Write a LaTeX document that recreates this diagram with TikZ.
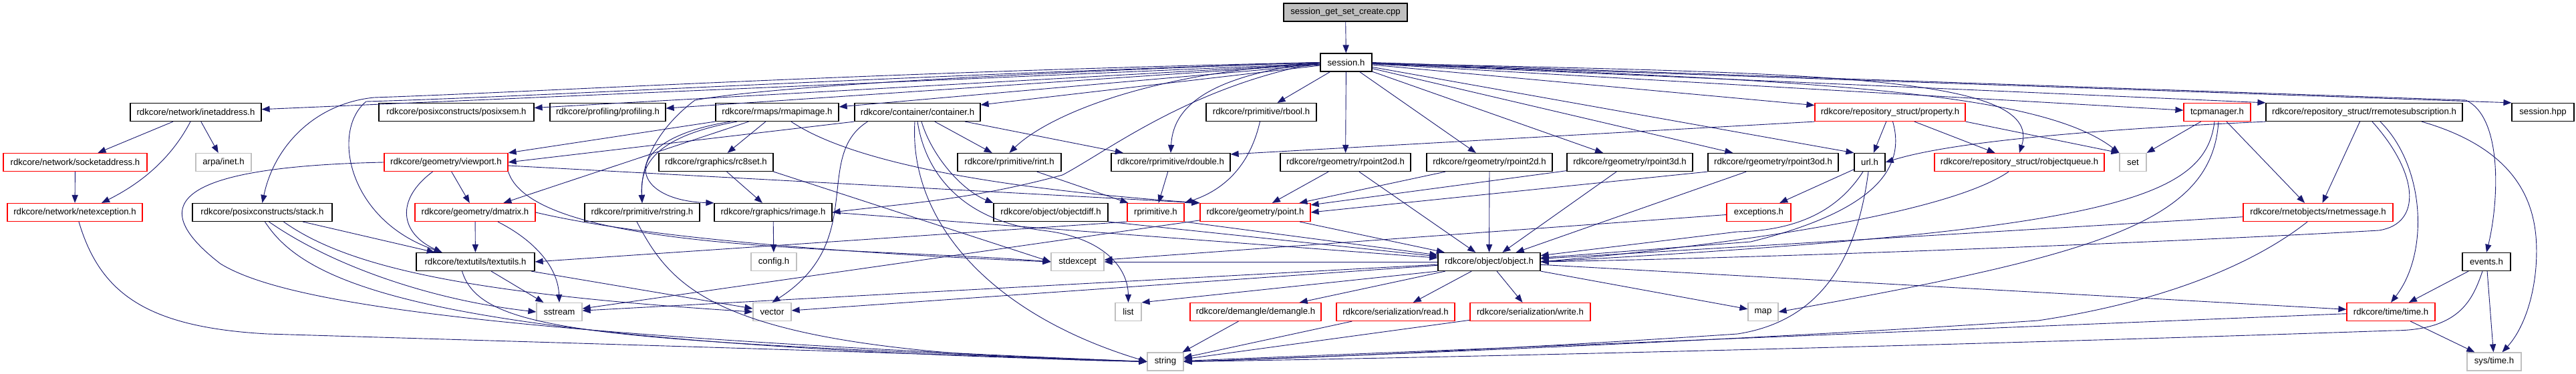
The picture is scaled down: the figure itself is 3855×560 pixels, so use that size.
\documentclass[tikz,border=0pt]{standalone}
\usepackage{fontspec}
\setmainfont{Liberation Sans}
\usetikzlibrary{arrows.meta}
\definecolor{edgeblue}{HTML}{191970}
\definecolor{extgray}{HTML}{BFBFBF}
\definecolor{cutred}{HTML}{FF0000}

\begin{document}
\begin{tikzpicture}[x=0.5pt, y=-0.5pt,
  hdrbox/.style={rectangle, font=\fontsize{6.6}{7}\selectfont, minimum height=13.5pt, inner xsep=1pt, inner ysep=0pt, line width=0.6pt},
  incl/.style={hdrbox, draw=black},
  trunc/.style={hdrbox, draw=cutred},
  extern/.style={hdrbox, draw=extgray},
  root/.style={hdrbox, draw=black, fill=extgray},
  dep/.style={draw=edgeblue, line width=0.45pt, -{Triangle[length=6pt,width=4.6pt]}}]
  \useasboundingbox (0,0) rectangle (3855,560);
  % files, row by row
  \node[root, minimum width=92.5pt] (cpp) at (2013.5,18.5) {session\_get\_set\_create.cpp};
  \node[incl, minimum width=38.5pt] (sessionh) at (2014.5,93.5) {session.h};
  \node[incl, minimum width=98pt] (inetaddr) at (293,168) {rdkcore/network/inetaddress.h};
  \node[incl, minimum width=116pt] (posixsem) at (683,168) {rdkcore/posixconstructs/posixsem.h};
  \node[incl, minimum width=86.5pt] (profiling) at (909.5,168) {rdkcore/profiling/profiling.h};
  \node[incl, minimum width=92pt] (rmapimage) at (1163,168) {rdkcore/rmaps/rmapimage.h};
  \node[incl, minimum width=94pt] (container) at (1373,168) {rdkcore/container/container.h};
  \node[incl, minimum width=82.5pt] (rbool) at (1887.5,168) {rdkcore/rprimitive/rbool.h};
  \node[trunc, minimum width=112.5pt] (property) at (2828.5,168) {rdkcore/repository\_struct/property.h};
  \node[trunc, minimum width=50pt] (tcpmgr) at (3318,168) {tcpmanager.h};
  \node[incl, minimum width=147pt] (rremote) at (3538,168) {rdkcore/repository\_struct/rremotesubscription.h};
  \node[incl, minimum width=46.5pt] (sessionhpp) at (3805.5,168) {session.hpp};
  \node[trunc, minimum width=107.5pt] (sockaddr) at (112.5,243) {rdkcore/network/socketaddress.h};
  \node[extern, minimum width=41.5pt] (arpainet) at (334.5,243) {arpa/inet.h};
  \node[trunc, minimum width=92.5pt] (viewport) at (667.5,243) {rdkcore/geometry/viewport.h};
  \node[incl, minimum width=85.5pt] (rceightset) at (1071.5,243) {rdkcore/rgraphics/rc8set.h};
  \node[incl, minimum width=77.5pt] (rint) at (1510.5,243) {rdkcore/rprimitive/rint.h};
  \node[incl, minimum width=89pt] (rdouble) at (1752,243) {rdkcore/rprimitive/rdouble.h};
  \node[incl, minimum width=97.5pt] (rptwood) at (2013.5,243) {rdkcore/rgeometry/rpoint2od.h};
  \node[incl, minimum width=94pt] (rptwod) at (2229,243) {rdkcore/rgeometry/rpoint2d.h};
  \node[incl, minimum width=94pt] (rptthreed) at (2439,243) {rdkcore/rgeometry/rpoint3d.h};
  \node[incl, minimum width=97.5pt] (rptthreeod) at (2653.5,243) {rdkcore/rgeometry/rpoint3od.h};
  \node[incl, minimum width=23pt] (url) at (2798,243) {url.h};
  \node[trunc, minimum width=127pt] (robjq) at (3022,243) {rdkcore/repository\_struct/robjectqueue.h};
  \node[extern, minimum width=20pt] (stdset) at (3192,243) {set};
  \node[trunc, minimum width=101pt] (netexc) at (112,318) {rdkcore/network/netexception.h};
  \node[incl, minimum width=104.5pt] (stack) at (392.5,318) {rdkcore/posixconstructs/stack.h};
  \node[trunc, minimum width=90pt] (dmatrix) at (711,318) {rdkcore/geometry/dmatrix.h};
  \node[incl, minimum width=86pt] (rstring) at (961,318) {rdkcore/rprimitive/rstring.h};
  \node[incl, minimum width=88pt] (rimage) at (1157,318) {rdkcore/rgraphics/rimage.h};
  \node[incl, minimum width=85.5pt] (objectdiff) at (1572.5,318) {rdkcore/object/objectdiff.h};
  \node[trunc, minimum width=42.5pt] (rprimitive) at (1729.5,318) {rprimitive.h};
  \node[trunc, minimum width=82.5pt] (point) at (1878.5,318) {rdkcore/geometry/point.h};
  \node[trunc, minimum width=48pt] (exceptions) at (2632,318) {exceptions.h};
  \node[trunc, minimum width=112pt] (rnetmsg) at (3469,318) {rdkcore/rnetobjects/rnetmessage.h};
  \node[incl, minimum width=88.5pt] (textutils) at (711.5,392) {rdkcore/textutils/textutils.h};
  \node[extern, minimum width=34pt] (configh) at (1158,392) {config.h};
  \node[extern, minimum width=39.5pt] (stdexcept) at (1612.5,392) {stdexcept};
  \node[incl, minimum width=76.5pt] (object) at (2228.5,392) {rdkcore/object/object.h};
  \node[incl, minimum width=36pt] (events) at (3721,392) {events.h};
  \node[extern, minimum width=34pt] (stdsstream) at (837,467) {sstream};
  \node[extern, minimum width=28.5pt] (stdvector) at (1155.5,467) {vector};
  \node[extern, minimum width=19.5pt] (stdlist) at (1688.5,467) {list};
  \node[trunc, minimum width=98pt] (demangle) at (1879,467) {rdkcore/demangle/demangle.h};
  \node[trunc, minimum width=88.5pt] (readh) at (2088.5,467) {rdkcore/serialization/read.h};
  \node[trunc, minimum width=90pt] (writeh) at (2290,467) {rdkcore/serialization/write.h};
  \node[extern, minimum width=22.5pt] (stdmap) at (2638.5,467) {map};
  \node[trunc, minimum width=66pt] (timeh) at (3578,467) {rdkcore/time/time.h};
  \node[extern, minimum width=27pt] (stdstring) at (1744,541.5) {string};
  \node[extern, minimum width=40.5pt] (systime) at (3732.5,541.5) {sys/time.h};
  % session.h
  \draw[dep] (cpp) -- (sessionh);
  \draw[dep] (sessionh) -- (inetaddr);
  \draw[dep] (sessionh) -- (posixsem);
  \draw[dep] (sessionh) -- (profiling);
  \draw[dep] (sessionh) -- (rmapimage);
  \draw[dep] (sessionh) -- (container);
  \draw[dep] (sessionh) -- (rbool);
  \draw[dep] (sessionh) -- (rptwood);
  \draw[dep] (sessionh) -- (rptwod);
  \draw[dep] (sessionh) -- (rptthreed);
  \draw[dep] (sessionh) -- (rptthreeod);
  \draw[dep] (sessionh) -- (property);
  \draw[dep] (sessionh) -- (url.north west);
  \draw[dep] (sessionh) .. controls (2700,110) and (3060,110) .. (robjq.north);
  \draw[dep] (sessionh) .. controls (2700,120) and (3050,135) .. (stdset.north west);
  \draw[dep] (sessionh) -- (tcpmgr);
  \draw[dep] (sessionh) -- (rremote.north west);
  \draw[dep] (sessionh) -- (sessionhpp.north west);
  \draw[dep] (sessionh.east) -- (3690,150) .. controls (3745,175) and (3740,300) .. (events.north);
  \draw[dep] (sessionh.west) .. controls (1300,108) and (800,138) .. (560,146) .. controls (470,155) and (410,220) .. (stack.north);
  \draw[dep] (sessionh.west) .. controls (1300,115) and (800,145) .. (548,152) .. controls (495,195) and (520,330) .. ([xshift=-25pt]textutils.north);
  \draw[dep] (sessionh.west) .. controls (1700,110) and (1560,180) .. (rint.north);
  \draw[dep] (sessionh.west) .. controls (1790,115) and (1755,170) .. (rdouble.north);
  \draw[dep] (sessionh.west) .. controls (1500,110) and (1150,130) .. (1040,150) .. controls (1000,180) and (958,230) .. (rstring.north);
  \draw[dep] (sessionh.west) .. controls (1780,130) and (1660,225) .. (1590,262) .. controls (1450,300) and (1350,305) .. (rimage.east);
  % network
  \draw[dep] (inetaddr) -- (sockaddr);
  \draw[dep] (inetaddr) -- (arpainet);
  \draw[dep] ([xshift=-4pt]inetaddr.south) .. controls (260,230) and (220,270) .. ([xshift=20pt]netexc.north);
  \draw[dep] (sockaddr) -- (netexc);
  \draw[dep] ([xshift=3pt]netexc.south) .. controls (150,440) and (220,490) .. (400,500) .. controls (900,515) and (1400,530) .. (stdstring.west);
  % posixconstructs, geometry, textutils
  \draw[dep] (stack) -- (textutils);
  \draw[dep] ([xshift=16pt]stack.south) .. controls (520,400) and (700,440) .. (stdvector.west);
  \draw[dep] ([xshift=5pt]stack.south) .. controls (500,400) and (650,450) .. (stdsstream.west);
  \draw[dep] ([xshift=2pt]stack.south) .. controls (460,430) and (650,515) .. (stdstring.west);
  \draw[dep] (viewport) -- (dmatrix);
  \draw[dep] (viewport) -- (point.north west);
  \draw[dep] ([xshift=-10pt]viewport.south) .. controls (590,300) and (600,350) .. ([xshift=-25pt]textutils.north);
  \draw[dep] (viewport.west) .. controls (250,250) and (220,310) .. (330,395) .. controls (420,450) and (700,500) .. (stdstring.west);
  \draw[dep] (viewport.south east) .. controls (800,380) and (1300,370) .. (stdexcept.west);
  \draw[dep] (dmatrix) -- (textutils);
  \draw[dep] ([xshift=17pt]dmatrix.south) .. controls (800,360) and (835,400) .. (stdsstream.north);
  \draw[dep] (dmatrix.east) .. controls (1000,365) and (1400,385) .. (stdexcept.west);
  \draw[dep] (textutils) -- (stdsstream);
  \draw[dep] (textutils) -- (stdvector);
  \draw[dep] ([xshift=-10pt]textutils.south) .. controls (720,500) and (900,510) .. (stdstring.west);
  % maps, graphics, container
  \draw[dep] (rmapimage) -- (viewport);
  \draw[dep] (rmapimage) -- (dmatrix);
  \draw[dep] (rmapimage) -- (rceightset);
  \draw[dep] ([xshift=-35pt]rmapimage.south) .. controls (920,210) and (940,300) .. (rimage.north west);
  \draw[dep] ([xshift=-30pt]rmapimage.south) .. controls (975,205) and (958,250) .. (rstring.north);
  \draw[dep] (rmapimage) .. controls (1300,260) and (1600,290) .. (point.north west);
  \draw[dep] (rceightset) -- (rimage);
  \draw[dep] (rceightset.south east) -- (stdexcept.west);
  \draw[dep] (rimage) -- (configh);
  \draw[dep] (rimage.east) -- (object);
  \draw[dep] ([xshift=-4pt]rstring.south) .. controls (1010,440) and (1080,530) .. (stdstring.west);
  \draw[dep] (container) -- (rint);
  \draw[dep] (container) -- (rdouble);
  \draw[dep] (container.south west) -- (viewport.east);
  \draw[dep] ([xshift=3pt]container.south) .. controls (1395,235) and (1440,285) .. (objectdiff.north west);
  \draw[dep] (container.south) .. controls (1385,260) and (1440,330) .. (1560,345) .. controls (1650,355) and (1688,400) .. (stdlist.north);
  \draw[dep] ([xshift=-2pt]container.south) .. controls (1360,330) and (1480,470) .. (stdstring.west);
  \draw[dep] ([xshift=10pt]container.south west) .. controls (1215,235) and (1300,360) .. (stdvector.north);
  % primitives and points
  \draw[dep] (rint) -- (rprimitive);
  \draw[dep] (rdouble) -- (rprimitive);
  \draw[dep] ([xshift=-1pt]rbool.south) .. controls (1870,250) and (1830,285) .. (rprimitive.north east);
  \draw[dep] (rprimitive.south west) -- (textutils.east);
  \draw[dep] (rprimitive.south east) -- (object);
  \draw[dep] (objectdiff.south east) -- (object);
  \draw[dep] (point) -- (object);
  \draw[dep] (point) -- (stdsstream);
  \draw[dep] (rptwood) -- (point);
  \draw[dep] (rptwood) -- (object);
  \draw[dep] (rptwod) -- (point);
  \draw[dep] (rptwod) -- (object);
  \draw[dep] (rptthreed) -- (point);
  \draw[dep] (rptthreed) -- (object);
  \draw[dep] (rptthreeod.south west) -- (point.east);
  \draw[dep] (rptthreeod) -- (object);
  % repository, url, tcp
  \draw[dep] (property.south west) -- ([yshift=6pt]rdouble.east);
  \draw[dep] (property) -- (url);
  \draw[dep] (property) -- (robjq);
  \draw[dep] (property.south east) -- (stdset.north west);
  \draw[dep] ([xshift=2pt]property.south) .. controls (2855,260) and (2790,320) .. (2620,362) -- (object);
  \draw[dep] (url) -- (exceptions);
  \draw[dep] ([xshift=-5pt]url.south) .. controls (2760,300) and (2710,345) .. (2600,347) -- (object);
  \draw[dep] ([xshift=-1pt]url.south) .. controls (2780,380) and (2730,480) .. (2600,500) .. controls (2300,520) and (2000,535) .. (stdstring.east);
  \draw[dep] (exceptions) -- (stdexcept);
  \draw[dep] ([xshift=-8pt]robjq.south) .. controls (2900,330) and (2500,375) .. (object.east);
  \draw[dep] (tcpmgr) -- (stdset.north east);
  \draw[dep] ([xshift=7pt]tcpmgr.south) -- ([xshift=-10pt]rnetmsg.north);
  \draw[dep] ([xshift=-2pt]tcpmgr.south) .. controls (3300,300) and (3150,345) .. (object.east);
  \draw[dep] ([xshift=1pt]tcpmgr.south) .. controls (3310,330) and (3150,380) .. (stdmap.east);
  \draw[dep] (rremote.south west) .. controls (3000,200) and (2880,225) .. (url.east);
  \draw[dep] (rremote) -- (rnetmsg);
  \draw[dep] ([xshift=12pt]rremote.south) .. controls (3630,250) and (3635,380) .. (timeh.north);
  \draw[dep] ([xshift=6pt]rremote.south) .. controls (3620,260) and (3625,335) .. (3560,345) .. controls (3300,360) and (2700,385) .. (object.east);
  \draw[dep] ([xshift=43pt]rremote.south) .. controls (3790,230) and (3800,330) .. (3795,400) .. controls (3790,460) and (3770,500) .. ([xshift=6pt]systime.north);
  \draw[dep] (rnetmsg) -- (object);
  \draw[dep] ([xshift=-8pt]rnetmsg.south) .. controls (3380,390) and (3250,450) .. (3050,480) .. controls (2600,510) and (2100,530) .. (stdstring.east);
  \draw[dep] (events) -- (timeh);
  \draw[dep] (events) -- (systime);
  \draw[dep] ([xshift=-3pt]events.south) .. controls (3700,450) and (3680,495) .. (3580,495) .. controls (3000,515) and (2200,535) .. (stdstring.east);
  \draw[dep] (timeh) -- (systime);
  \draw[dep] (timeh) -- (stdstring);
  % object.h
  \draw[dep] (object) -- (demangle);
  \draw[dep] (object) -- (readh);
  \draw[dep] (object) -- (writeh);
  \draw[dep] (object) -- (stdmap);
  \draw[dep] (object) -- (timeh);
  \draw[dep] (object.south west) -- (stdlist.north east);
  \draw[dep] (object) -- (stdvector);
  \draw[dep] (object) -- (stdsstream);
  \draw[dep] (object) -- (stdexcept);
  \draw[dep] (demangle) -- (stdstring);
  \draw[dep] (readh) -- (stdstring);
  \draw[dep] (writeh) -- (stdstring);
\end{tikzpicture}
\end{document}
